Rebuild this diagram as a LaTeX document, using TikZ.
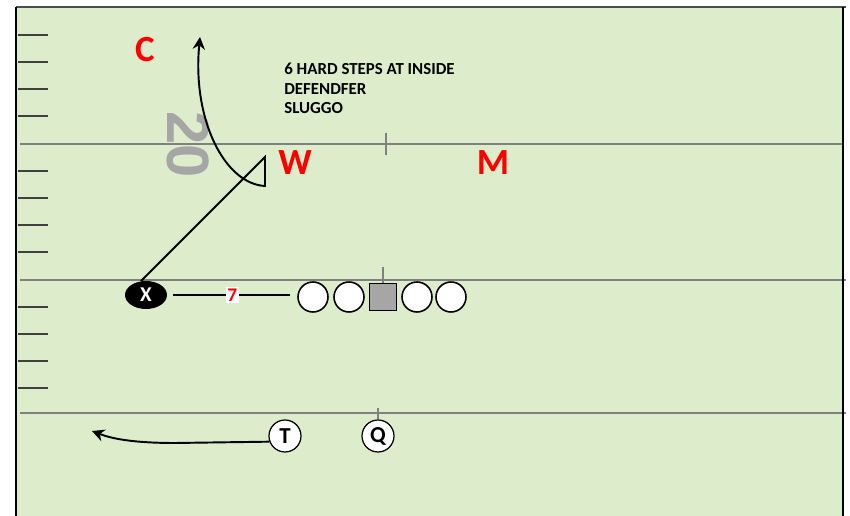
\documentclass[tikz,border=0pt]{standalone}
\usepackage{fontspec}
\setmainfont{Carlito}
\newfontfamily\yardfont{Liberation Sans}
\usetikzlibrary{arrows.meta,shapes.geometric}

\definecolor{fieldgreen}{RGB}{221,237,203}
\definecolor{linegray}{RGB}{128,128,128}
\definecolor{centergray}{RGB}{166,166,166}

\begin{document}
\begin{tikzpicture}[x=0.02cm,y=-0.02cm,
    yardline/.style={draw=linegray,line width=0.7pt},
    hashmark/.style={draw=black!75,line width=0.8pt},
    defender/.style={text=red,inner sep=0,font=\bfseries\fontsize{21}{21}\selectfont},
    lineman/.style={circle,draw,fill=white,line width=0.9pt,minimum size=0.6cm,inner sep=0},
    back/.style={circle,draw,fill=white,line width=0.7pt,minimum size=0.64cm,inner sep=0,font=\bfseries\fontsize{13}{13}\selectfont},
    route/.style={line width=1.1pt,-{Stealth[length=7pt,width=7pt]}}]
    \useasboundingbox (0,0) rectangle (850,516);
    % field
    \fill[fieldgreen] (16,7) rectangle (843,516);
    \draw[yardline] (20,144) -- (843,144);
    \draw[yardline] (20,280) -- (846,280);
    \draw[yardline] (20,413) -- (846,413);
    \draw[draw=black!70,line width=1.2pt] (16,7) -- (846,7);
    \draw[line width=0.8pt] (16,7) -- (16,516);
    \draw[line width=0.8pt] (843,7) -- (843,516);
    \foreach \y in {35,62,89,116,171,198,225,252,307,334,361,388}
        \draw[hashmark] (18,\y) -- (48,\y);
    \draw[yardline] (386,133) -- (386,155);
    \node[rotate=-90,text=centergray,font=\yardfont\bfseries\fontsize{34}{34}\selectfont] (yard) at (188,145) {20};

    % defense
    \node[defender] (c) at (145,50) {C};
    \node[defender] (w) at (295,163) {W};
    \node[defender] (m) at (493,163) {M};

    % offensive line
    \node[lineman] (lt) at (313,297) {};
    \node[lineman] (lg) at (349,297) {};
    \node[draw,fill=centergray,line width=0.9pt,minimum size=0.54cm,inner sep=0] (ctr) at (383,297) {};
    \node[lineman] (rg) at (417,297) {};
    \node[lineman] (rt) at (451,297) {};
    \draw[yardline] (ctr.north) -- ++(0,-16);

    % backs
    \node[ellipse,fill=black,text=white,minimum width=0.84cm,minimum height=0.56cm,inner sep=0,font=\bfseries\fontsize{12}{12}\selectfont] (x) at (146,295) {X};
    \node[back] (t) at (285,436) {T};
    \node[back] (q) at (378,436) {Q};
    \draw[yardline] (378,408) -- (q.north);

    % split
    \draw[line width=0.6pt,shorten <=3pt,shorten >=4pt] (x.east) -- (x.east -| lt.west)
        node[midway,fill=white,inner sep=1pt,text=red,font=\bfseries\fontsize{11}{11}\selectfont] (split) {7};

    % routes
    \coordinate (stem) at (265,157);
    \coordinate (plant) at (265,186);
    \coordinate (xend) at (200,37);
    \draw[route] (x.110) -- (stem) -- (plant) .. controls (225,184) and (192,120) .. (xend);
    \coordinate (turn) at (175,443);
    \coordinate (tend) at (92,431);
    \draw[route] (t.200) -- (turn) .. controls (130,443) and (110,438) .. (tend);

    \node[anchor=north west,align=left,inner sep=0,font=\bfseries\fontsize{9.6}{11}\selectfont] (call) at (284,63)
        {6 HARD STEPS AT INSIDE\\DEFENDFER\\SLUGGO};
\end{tikzpicture}
\end{document}
